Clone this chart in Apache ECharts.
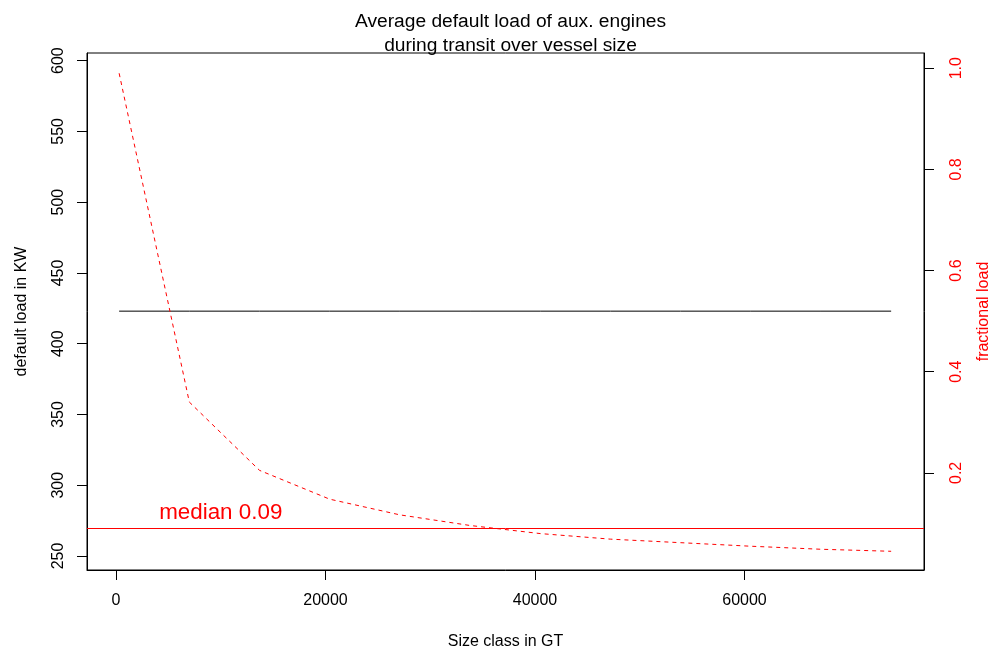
<!DOCTYPE html>
<html>
<head>
<meta charset="utf-8">
<script src="https://cdn.jsdelivr.net/npm/echarts@6/dist/echarts.min.js"></script>
<style>
  html, body { margin: 0; padding: 0; background: #fff; }
  #chart { width: 995px; height: 657px; }
</style>
</head>
<body>
<div id="chart"></div>
<script>
// size classes (GT) and the values
const sizeClass = [300, 7000, 13700, 20400, 27100, 33800, 40500, 47200, 53900, 60600, 67300, 74000]
const defaultLoad = [423, 423, 423, 423, 423, 423, 423, 423, 423, 423, 423, 423]
const fractionalLoad = [0.99, 0.34, 0.205, 0.148, 0.117, 0.096, 0.080, 0.069, 0.062, 0.055, 0.049, 0.045]

// tick labels
const xTicks = [0, 20000, 40000, 60000]
const leftTicks = [250, 300, 350, 400, 450, 500, 550, 600]
const rightTicks = [0.2, 0.4, 0.6, 0.8, 1.0]

// median of the fractional load
const sorted = fractionalLoad.slice().sort((a, b) => a - b)
const mid = sorted.length / 2
const median = sorted.length % 2 ? sorted[Math.floor(mid)] : (sorted[mid - 1] + sorted[mid]) / 2

const font = 'Liberation Sans, Arial, Helvetica, sans-serif'
const myChart = echarts.init(document.getElementById('chart'))

// axis line sits on the box border, ticks point outward
const axisLine = { show: true, onZero: false, lineStyle: { color: '#000', width: 1 } }
const tick = values => ({ show: true, inside: false, length: 10, customValues: values, lineStyle: { color: '#000', width: 1 } })

const option = {
  animation: false,
  backgroundColor: '#fff',
  textStyle: { fontFamily: font },
  title: {
    text: 'Average default load of aux. engines\nduring transit over vessel size',
    left: 505.5,
    top: 5,
    textAlign: 'center',
    textStyle: { fontFamily: font, fontSize: 19.2, fontWeight: 'normal', color: '#000', lineHeight: 24 }
  },
  grid: {
    left: 87, right: 71, top: 53, bottom: 87,
    outerBoundsMode: 'none',
    containLabel: false,
    show: true, borderColor: '#000', borderWidth: 1, backgroundColor: 'transparent'
  },
  xAxis: {
    type: 'value',
    min: -2768,
    max: 77136,
    name: 'Size class in GT',
    nameLocation: 'middle',
    nameGap: 64,
    nameTextStyle: { fontFamily: font, fontSize: 16, color: '#000' },
    axisLine: axisLine,
    splitLine: { show: false },
    axisTick: tick(xTicks),
    axisLabel: { customValues: xTicks, margin: 23, fontSize: 16, color: '#000', formatter: v => String(v) }
  },
  yAxis: [
    {
      type: 'value',
      min: 240.1,
      max: 605.4,
      name: 'default load in KW',
      nameLocation: 'middle',
      nameGap: 57,
      nameTextStyle: { fontFamily: font, fontSize: 16, color: '#000' },
      axisLine: axisLine,
      splitLine: { show: false },
      axisTick: tick(leftTicks),
      axisLabel: { customValues: leftTicks, rotate: 90, margin: 20, fontSize: 16, color: '#000', formatter: v => String(v) }
    },
    {
      type: 'value',
      position: 'right',
      min: 0.008,
      max: 1.03,
      name: 'fractional load',
      nameLocation: 'middle',
      nameGap: 52,
      nameTextStyle: { fontFamily: font, fontSize: 16, color: '#ff0000' },
      axisLine: axisLine,
      splitLine: { show: false },
      axisTick: tick(rightTicks),
      axisLabel: { customValues: rightTicks, rotate: 90, margin: 25, fontSize: 16, color: '#ff0000', formatter: v => v.toFixed(1) }
    }
  ],
  series: [
    {
      type: 'line',
      yAxisIndex: 0,
      data: sizeClass.map((x, i) => [x, defaultLoad[i]]),
      showSymbol: false,
      lineStyle: { color: '#000', width: 1 }
    },
    {
      type: 'line',
      yAxisIndex: 1,
      data: sizeClass.map((x, i) => [x, fractionalLoad[i]]),
      showSymbol: false,
      lineStyle: { color: '#ff0000', width: 1, type: [4, 4] },
      markLine: {
        silent: true,
        symbol: 'none',
        label: { show: false },
        lineStyle: { color: '#ff0000', width: 1, type: 'solid' },
        data: [{ yAxis: median }]
      },
      markPoint: {
        silent: true,
        symbolSize: 0,
        data: [{ coord: [10000, median] }],
        label: {
          show: true,
          position: 'inside',
          offset: [0, -17],
          formatter: 'median ' + median.toFixed(2),
          fontFamily: font,
          fontSize: 22.4,
          color: '#ff0000'
        }
      }
    }
  ]
}

myChart.setOption(option)
</script>
</body>
</html>
